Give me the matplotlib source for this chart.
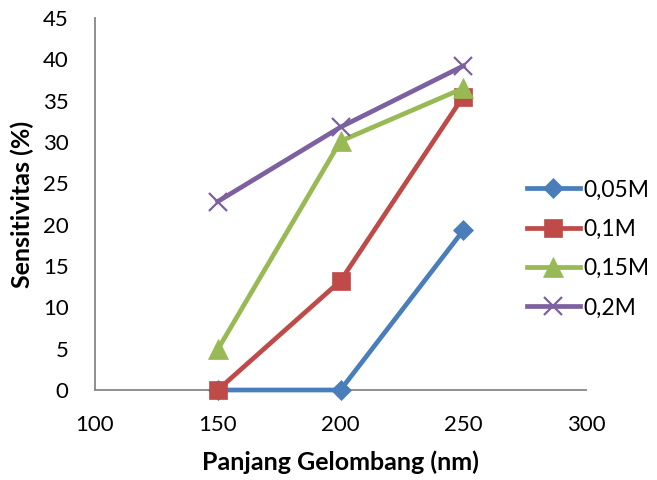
import matplotlib
matplotlib.use("Agg")
import matplotlib.pyplot as plt

plt.rcParams['font.family'] = ['Lato', 'DejaVu Sans']

wavelength = [150, 200, 250]
s_005 = [0.0, 0.0, 19.3]
s_01 = [0.0, 13.2, 35.5]
s_015 = [4.9, 30.1, 36.5]
s_02 = [22.8, 31.8, 39.2]
series_labels = ['0,05M', '0,1M', '0,15M', '0,2M']

fig = plt.figure(figsize=(6.57, 4.8), dpi=100)
ax = fig.add_axes([95 / 657, 1 - 390 / 480, 491 / 657, 372 / 480])

styles = [
    (s_005, '#4a7ebb', 'D', 10),
    (s_01, '#be4b48', 's', 13),
    (s_015, '#98b954', '^', 14),
    (s_02, '#7d60a0', 'x', 13),
]
for (vals, col, mk, ms), lab in zip(styles, series_labels):
    ax.plot(wavelength, vals, color=col, lw=3.4, marker=mk, markersize=ms,
            markeredgewidth=1.6 if mk == 'x' else 0.5, markeredgecolor=col,
            markerfacecolor=col, label=lab, clip_on=False, zorder=3)

ax.set_xlim(100, 300)
ax.set_ylim(0, 45)
ax.set_xticks([100, 150, 200, 250, 300])
ax.set_yticks(range(0, 46, 5))
for s in ['top', 'right']:
    ax.spines[s].set_visible(False)
for s in ['left', 'bottom']:
    ax.spines[s].set_color('#868686')
    ax.spines[s].set_linewidth(1.3)
ax.tick_params(axis='both', labelcolor='black', labelsize=16, length=0)
ax.tick_params(axis='x', pad=18)
ax.tick_params(axis='y', pad=19)
ax.set_xlabel('Panjang Gelombang (nm)', fontsize=18, fontweight='bold', labelpad=11)
ax.set_ylabel('Sensitivitas (%)', fontsize=18, fontweight='bold', labelpad=6)

ax.legend(loc='center left', bbox_to_anchor=(527 / 657, 1 - 249 / 480),
          bbox_transform=fig.transFigure, frameon=False,
          fontsize=16.5, handlelength=2.3, labelspacing=0.8, handletextpad=0.15,
          borderaxespad=0, borderpad=0)

fig.savefig('out.png', dpi=100)
